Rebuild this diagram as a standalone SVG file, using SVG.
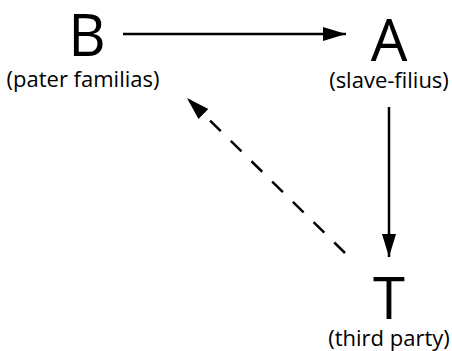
<svg xmlns="http://www.w3.org/2000/svg" width="452" height="351" viewBox="0 0 452 351">
  <style>
    .big { font-family: "Open Sans", "Liberation Sans", sans-serif; font-size: 58px; fill: #000; text-anchor: middle; }
    .lbl { font-family: "Open Sans", "Liberation Sans", sans-serif; font-size: 22px; fill: #000; text-anchor: middle; }
    .edge { stroke: #000; stroke-width: 2.5; fill: none; }
    .dash { stroke-dasharray: 15 14; }
  </style>
  <defs>
    <marker id="head" markerUnits="userSpaceOnUse" markerWidth="24" markerHeight="16" refX="23" refY="7" orient="auto">
      <path d="M0,0 L23,7 L0,14 Z" fill="#000"/>
    </marker>
  </defs>
  <rect width="452" height="351" fill="#fff"/>
  <g id="connectors">
    <line class="edge" x1="123" y1="34" x2="346" y2="34" marker-end="url(#head)"/>
    <line class="edge" x1="389" y1="107" x2="389" y2="257" marker-end="url(#head)"/>
    <line class="edge dash" x1="345" y1="253" x2="187" y2="98" marker-end="url(#head)"/>
  </g>
  <g id="node-B">
    <text class="big" x="87" y="56">B</text>
    <text class="lbl" x="83" y="87">(pater familias)</text>
  </g>
  <g id="node-A">
    <text class="big" x="389" y="61">A</text>
    <text class="lbl" x="389" y="88">(slave-filius)</text>
  </g>
  <g id="node-T">
    <text class="big" x="389" y="319">T</text>
    <text class="lbl" x="389" y="346">(third party)</text>
  </g>
</svg>
